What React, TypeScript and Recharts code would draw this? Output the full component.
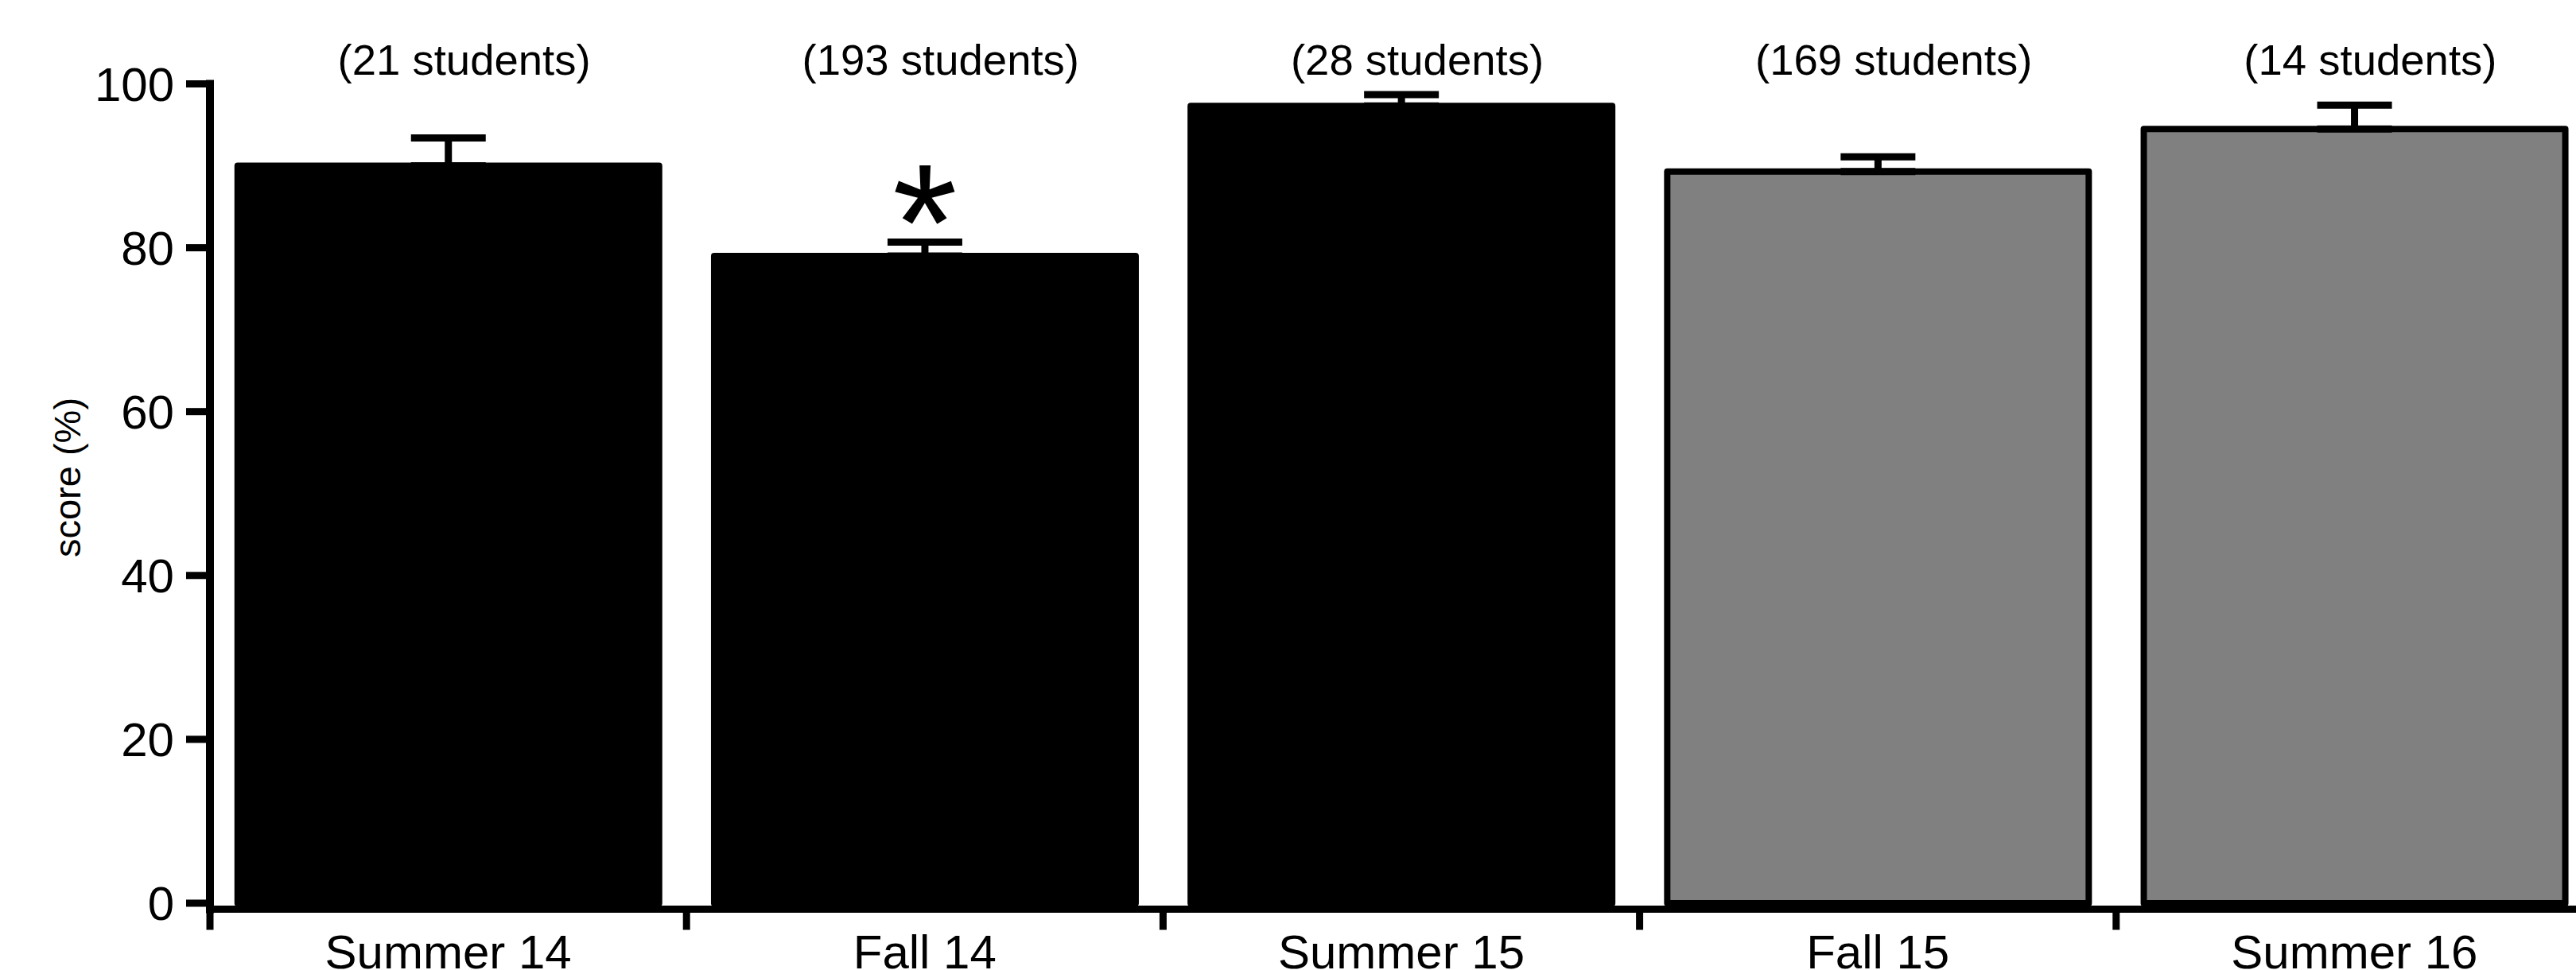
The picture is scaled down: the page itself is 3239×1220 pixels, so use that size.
import React from 'react';
import { BarChart, Bar, XAxis, YAxis, ErrorBar, Cell, LabelList } from 'recharts';

const terms = ['Summer 14', 'Fall 14', 'Summer 15', 'Fall 15', 'Summer 16'];
const scores = [90.0, 79.0, 97.3, 89.3, 94.5];
const errors = [3.4, 1.7, 1.4, 1.8, 2.9];
const studentCounts = [21, 193, 28, 169, 14];
const significance = ['', '*', '', '', ''];
const barColors = ['#000000', '#000000', '#000000', '#808080', '#808080'];
const yTicks = [0, 20, 40, 60, 80, 100];

const data = terms.map((term, i) => ({
  term,
  score: scores[i],
  err: [0, errors[i]],
  students: `(${studentCounts[i]} students)`,
  sig: significance[i],
}));

const FONT = '"Liberation Sans", Arial, Helvetica, sans-serif';

const YTick = (props: any) => {
  const { x, y, payload } = props;
  return (
    <text x={x} y={y} dy="0.355em" textAnchor="end" fontSize={60} fontFamily={FONT} fill="#000">
      {payload.value}
    </text>
  );
};

// Category label at the band centre, plus a tick mark at the band's left edge
const BottomTick = (props: any) => {
  const { x, y, payload } = props;
  const half = typeof payload.offset === 'number' ? payload.offset : 0;
  const edge = x - half;
  return (
    <g>
      <line x1={edge} y1={y} x2={edge} y2={y + 26} stroke="#000" strokeWidth={9} />
      <text x={x} y={y + 74.5} textAnchor="middle" fontSize={60} fontFamily={FONT} fill="#000">
        {payload.value}
      </text>
    </g>
  );
};

const TopTick = (props: any) => {
  const { x, y, payload } = props;
  return (
    <text x={x + 20} y={y - 12} textAnchor="middle" fontSize={54.5} fontFamily={FONT} fill="#000">
      {payload.value}
    </text>
  );
};

const renderYLabel = (props: any) => {
  const vb = props.viewBox || { x: 0, y: 0, width: 0, height: 0 };
  const cx = vb.x + 84;
  const cy = vb.y + vb.height / 2 - 24;
  return (
    <text
      x={cx}
      y={cy}
      textAnchor="middle"
      dominantBaseline="central"
      transform={`rotate(-90, ${cx}, ${cy})`}
      fontSize={47}
      fontFamily={FONT}
      fill="#000"
    >
      score (%)
    </text>
  );
};

const Asterisk = (props: any) => {
  const { x, y, width, value } = props;
  if (!value) return null;
  return (
    <text x={x + width / 2} y={y + 30} textAnchor="middle" fontSize={210} fontFamily={FONT} fill="#000">
      {value}
    </text>
  );
};

export default function App() {
  return (
    <div style={{ position: 'absolute', left: 0, top: 0, width: 3239, height: 1220, overflow: 'hidden', background: '#fff' }}>
      <BarChart
        width={3300}
        height={1220}
        data={data}
        margin={{ top: 0, right: 40, bottom: 0, left: 0 }}
        barCategoryGap="5.8%"
      >
        <XAxis
          xAxisId="axisT"
          orientation="top"
          dataKey="students"
          height={105.5}
          axisLine={false}
          tickLine={false}
          tickSize={0}
          tickMargin={0}
          interval={0}
          tick={<TopTick />}
        />
        <XAxis
          xAxisId="axisB"
          dataKey="term"
          height={76.5}
          axisLine={{ stroke: '#000', strokeWidth: 9, strokeLinecap: 'square' }}
          tickLine={false}
          tickSize={0}
          tickMargin={0}
          interval={0}
          tick={<BottomTick />}
        />
        <YAxis
          width={264}
          type="number"
          domain={[-0.73, 100]}
          ticks={yTicks}
          allowDataOverflow
          axisLine={{ stroke: '#000', strokeWidth: 10, strokeLinecap: 'square' }}
          tickLine={{ stroke: '#000', strokeWidth: 9 }}
          tickSize={30}
          tickMargin={15}
          tick={<YTick />}
          label={renderYLabel}
        />
        <Bar
          xAxisId="axisB"
          dataKey="score"
          stroke="#000"
          strokeWidth={8}
          strokeLinejoin="round"
          isAnimationActive={false}
        >
          {data.map((d, i) => (
            <Cell key={d.term} fill={barColors[i]} />
          ))}
          <ErrorBar dataKey="err" width={47} stroke="#000" strokeWidth={9} direction="y" />
          <LabelList dataKey="sig" content={<Asterisk />} />
        </Bar>
      </BarChart>
    </div>
  );
}
